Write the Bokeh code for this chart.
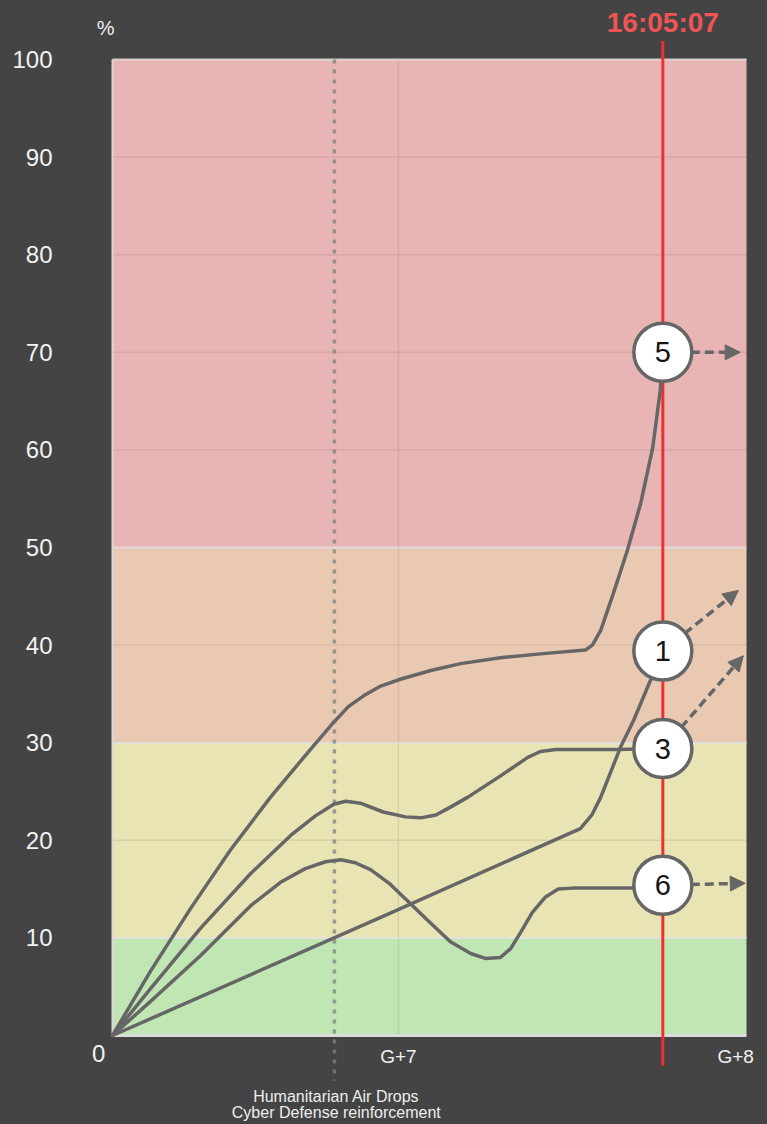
from bokeh.plotting import figure
from bokeh.models import (ColumnDataSource, Range1d, LinearAxis, FixedTicker,
                          Arrow, NormalHead)
from bokeh.core.properties import value
from bokeh.embed import file_html
from bokeh.resources import INLINE

# ---------------- data ----------------
Y_TICKS = [10, 20, 30, 40, 50, 60, 70, 80, 90, 100]
ZERO_TICK = [-2.2]
ZERO_LABEL = "0"
X_TICKS = [45.1, 98.3]
X_LABELS = ["G+7", "G+8"]

BAND_BOTTOM = [0, 10, 30, 50]
BAND_TOP = [10, 30, 50, 100]
BAND_COLORS = ["#bfe6b3", "#e8e4b4", "#eac9b3", "#e8b4b4"]
GRID_Y = [20, 40, 60, 70, 80, 90]
BORDER_Y = [10, 30, 50, 100]
GRID_X = [45.1]

NOW_X = 86.8
NOW_LABEL = "16:05:07"
EVENT_X = 35.0
EVENT_LABELS = ["Humanitarian Air Drops", "Cyber Defense reinforcement"]

S5_X = [0, 6.0, 12.3, 18.6, 24.9, 31.2, 34.9, 37.2, 39.6, 42.3, 45.4, 50.2, 54.9, 61.2, 67.5,
        74.6, 75.7, 77.0, 79.0, 81.2, 83.3, 85.2, 86.4, 86.8]
S5_Y = [0, 6.6, 13.0, 19.0, 24.4, 29.3, 32.1, 33.7, 34.8, 35.8, 36.5, 37.4, 38.1, 38.7, 39.1,
        39.5, 40.0, 41.5, 45.3, 49.7, 54.5, 60.2, 66.1, 70.0]

S1_X = [0, 42.3, 73.8, 75.6, 77.0, 80.1, 82.2, 86.8]
S1_Y = [0, 12.1, 21.2, 22.6, 24.4, 29.5, 32.3, 39.4]

S3_X = [0, 6.0, 13.9, 21.8, 28.1, 32.0, 34.9, 36.8, 39.1, 42.7, 46.2, 48.6, 51.0, 53.3,
        56.0, 61.2, 65.5, 67.5, 69.9, 79.7, 86.8]
S3_Y = [0, 4.8, 11.0, 16.6, 20.5, 22.5, 23.7, 24.0, 23.8, 22.9, 22.4, 22.3, 22.6, 23.4,
        24.4, 26.6, 28.5, 29.1, 29.3, 29.3, 29.4]

S6_X = [0, 6.0, 13.9, 21.8, 26.5, 30.4, 33.6, 36.0, 38.3, 40.7, 43.8, 47.0, 50.2, 53.3,
        56.5, 58.8, 61.2, 62.8, 64.4, 66.2, 68.3, 70.3, 72.6, 82.2, 86.8]
S6_Y = [0, 3.5, 8.2, 13.3, 15.7, 17.1, 17.8, 18.0, 17.7, 17.0, 15.5, 13.5, 11.5, 9.6,
        8.4, 7.9, 8.0, 8.9, 10.6, 12.6, 14.2, 15.0, 15.1, 15.1, 15.4]

MARKER_IDS = ["5", "1", "3", "6"]
MARKER_Y = [70.0, 39.4, 29.4, 15.4]
ARROW_END_X = [99.0, 98.7, 99.5, 99.8]
ARROW_END_Y = [70.0, 45.6, 38.9, 15.6]

# ---------------- figure ----------------
BG = "#444444"
LINE = "#666666"
FONT = "Liberation Sans"

p = figure(width=767, height=1124, output_backend="svg", toolbar_location=None,
           x_range=Range1d(-17.666, 103.31), y_range=Range1d(-9.119, 106.045),
           x_axis_location=None, y_axis_location=None, min_border=0)
p.grid.visible = False
p.background_fill_color = BG
p.border_fill_color = BG
p.outline_line_color = None

# bands
bands = p.quad(left=0, right=100, bottom=BAND_BOTTOM, top=BAND_TOP,
               fill_color=BAND_COLORS, line_color=None)
bands.level = "image"

# faint grid lines
g1 = p.segment(x0=0, x1=100, y0=GRID_Y, y1=GRID_Y, line_color="#000000",
               line_alpha=0.07, line_width=1.5)
g1.level = "image"
g2 = p.segment(x0=GRID_X, x1=GRID_X, y0=0, y1=100, line_color="#000000",
               line_alpha=0.07, line_width=1.5)
g2.level = "image"
# light borders
b1 = p.segment(x0=0, x1=100, y0=BORDER_Y, y1=BORDER_Y, line_color="#e2e2e2",
               line_alpha=0.85, line_width=2)
b1.level = "image"
b2 = p.segment(x0=[0], x1=[100], y0=[0], y1=[0], line_color="#dcdcdc", line_width=3)
b2.level = "image"
b3 = p.segment(x0=[0], x1=[0], y0=[0], y1=[100], line_color="#e0d6d6", line_width=2)
b3.level = "image"

# event dotted line
ev = p.segment(x0=[EVENT_X], x1=[EVENT_X], y0=[100], y1=[-4.6], line_color="#808080",
               line_alpha=0.75, line_width=3.5, line_dash="4 6")
ev.level = "image"
# now line
nw = p.segment(x0=[NOW_X], x1=[NOW_X], y0=[101.9], y1=[-3.1], line_color="#f03030",
               line_width=3)
nw.level = "image"

# series lines
for xs, ys in [(S5_X, S5_Y), (S1_X, S1_Y), (S3_X, S3_Y), (S6_X, S6_Y)]:
    p.line(x=xs, y=ys, line_color=LINE, line_width=3.5, line_join="round",
           line_cap="round")

# projection arrows
arrow_src = ColumnDataSource(dict(x0=[NOW_X] * len(MARKER_Y), y0=MARKER_Y,
                                  x1=ARROW_END_X, y1=ARROW_END_Y))
arr = Arrow(source=arrow_src, x_start="x0", y_start="y0", x_end="x1", y_end="y1",
            line_color=LINE, line_width=3.5, line_dash="9 5",
            end=NormalHead(size=15, fill_color=LINE, line_color=LINE, line_width=1))
arr.level = "underlay"
p.add_layout(arr)

# markers
msrc = ColumnDataSource(dict(x=[NOW_X] * len(MARKER_Y), y=MARKER_Y, t=MARKER_IDS))
p.scatter(x="x", y="y", source=msrc, size=58, fill_color="#ffffff",
          line_color=LINE, line_width=3.5)
p.text(x="x", y="y", text="t", source=msrc, text_align="center",
       text_baseline="middle", text_font=value(FONT), text_font_size="29px",
       text_color="#151515")

# texts
p.text(x=[-1.1], y=[103.2], text=["%"], text_align="center", text_baseline="middle",
       text_font=value(FONT), text_font_size="20px", text_color="#eeeeee")
p.text(x=[NOW_X], y=[103.8], text=[NOW_LABEL], text_align="center",
       text_baseline="middle", text_font=value(FONT), text_font_size="28px",
       text_font_style="bold", text_color="#f05555")
p.text(x=[EVENT_X + 0.3] * 2, y=[-6.3, -7.85], text=EVENT_LABELS, text_align="center",
       text_baseline="middle", text_font=value(FONT), text_font_size="16px",
       text_color="#eeeeee")

# axes
def style(ax, size):
    ax.axis_line_color = None
    ax.major_tick_line_color = None
    ax.minor_tick_line_color = None
    ax.major_tick_out = 0
    ax.major_tick_in = 0
    ax.major_label_text_color = "#f2f2f2"
    ax.major_label_text_font = FONT
    ax.major_label_text_font_size = size

yax = LinearAxis(fixed_location=0, ticker=FixedTicker(ticks=Y_TICKS))
style(yax, "24px")
yax.major_label_standoff = 60
p.add_layout(yax, "left")

xz = LinearAxis(fixed_location=0, ticker=FixedTicker(ticks=ZERO_TICK),
                major_label_overrides={ZERO_TICK[0]: ZERO_LABEL})
style(xz, "24px")
xz.major_label_standoff = 10
p.add_layout(xz, "below")

xg = LinearAxis(fixed_location=0, ticker=FixedTicker(ticks=X_TICKS),
                major_label_overrides={t: l for t, l in zip(X_TICKS, X_LABELS)})
style(xg, "19px")
xg.major_label_standoff = 11
p.add_layout(xg, "below")

html = file_html(p, INLINE)
css = "<style>html, body { background-color: #444444 !important; margin: 0 !important; overflow: hidden !important; }</style>"
html = html.replace("</head>", css + "</head>", 1)
open("out.html", "w").write(html)
